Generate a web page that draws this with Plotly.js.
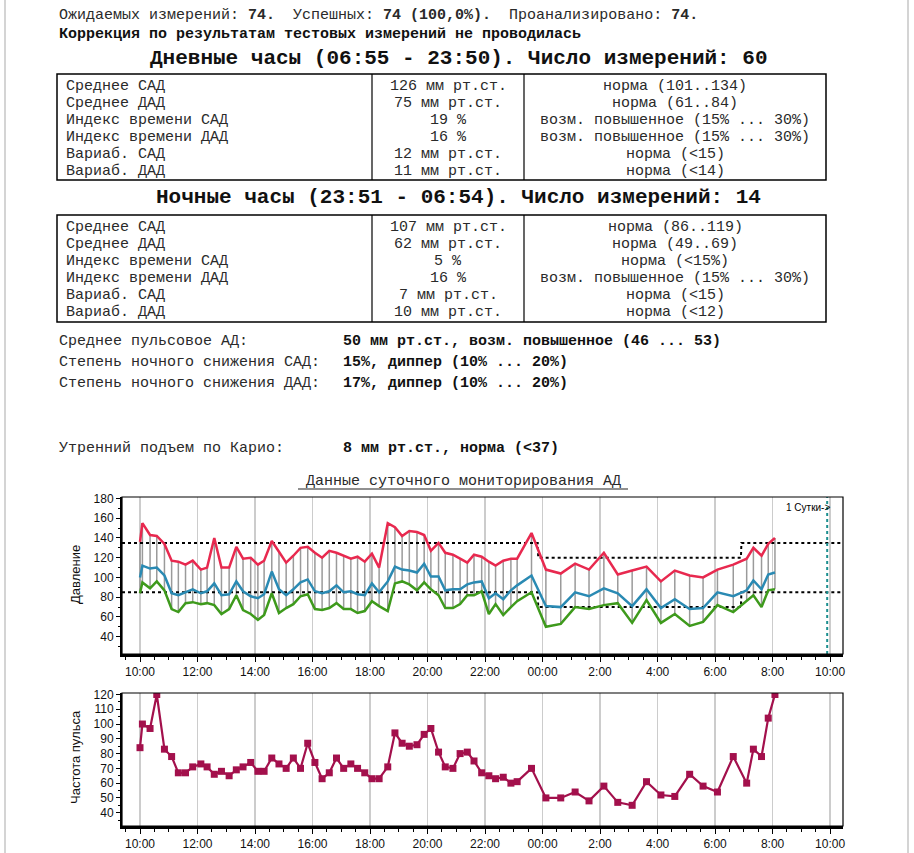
<!DOCTYPE html>
<html>
<head>
<meta charset="utf-8">
<script src="https://cdn.plot.ly/plotly-3.0.1.min.js"></script>
<style>
html,body{margin:0;padding:0;background:#fff;}
#chart{width:914px;height:853px;}
</style>
</head>
<body>
<div id="chart"></div>
<script>
// ---------- data ----------
const times = ['10:00','10:05','10:21','10:35','10:51','11:06','11:20','11:35','11:50','12:07',
  '12:20','12:35','12:50','13:06','13:21','13:35','13:51','14:06','14:19','14:35',
  '14:50','15:05','15:20','15:35','15:50','16:05','16:20','16:35','16:50','17:05',
  '17:20','17:34','17:49','18:04','18:19','18:37','18:52','19:07','19:22','19:38',
  '19:53','20:07','20:23','20:37','20:53','21:08','21:23','21:37','21:53','22:08',
  '22:22','22:38','22:54','23:07','23:37','00:07','00:38','01:08','01:37','02:08',
  '02:37','03:07','03:37','04:07','04:36','05:07','05:35','06:05','06:38','07:06',
  '07:20','07:37','07:51','08:05'];
const sbp = [136,155,143,142,134,117,116,113,117,108, 110,140,110,110,131,119,120,113,117,137,
  126,115,122,130,131,125,120,127,125,122, 119,121,116,124,110,155,151,142,147,146,
  143,127,135,125,123,119,115,123,121,116, 112,117,119,119,145,108,104,114,108,125,
  103,107,111,96,107,102,100,108,113,119, 130,122,134,140];
const mbp = [100,112,109,110,102,84,82,85,88,84, 86,94,82,83,96,86,81,79,83,106,
  88,82,88,95,98,86,84,86,92,85, 86,83,82,94,85,96,111,108,107,105,
  114,101,101,87,88,88,93,95,96,79, 84,78,87,92,102,71,70,85,81,89,
  84,71,88,69,78,68,69,85,81,87, 97,88,103,105];
const dbp = [84,95,89,96,87,68,65,74,75,73, 74,72,63,68,82,67,63,57,62,84,
  64,69,73,81,83,68,67,69,74,68, 68,64,66,76,71,66,94,96,93,87,
  95,88,82,69,69,73,82,82,86,63, 73,62,70,76,85,50,53,70,68,72,
  74,54,77,54,63,51,55,72,65,76, 82,70,87,88];
const pulse = [84,100,97,120,83,78,67,67,71,73, 71,66,68,65,69,71,74,68,68,77,
  73,70,77,70,87,74,63,67,77,70, 73,70,67,63,63,71,94,87,85,86,
  93,97,81,71,70,80,81,75,67,65, 63,64,60,61,70,50,50,54,48,58,
  47,45,61,52,51,66,58,54,78,60, 83,78,104,120];

const dayEnd = '23:50', nightStart = '23:51', nightEnd = '06:54', dayStart = '06:55';
const dayLimits = [135, 85];     // SBP, DBP day thresholds
const nightLimits = [120, 70];   // SBP, DBP night thresholds
const dayMarkTime = '09:54';     // next day (end of first 24 h)
const dayMarkLabel = '1 Сутки->';

const tickTimes = ['10:00','12:00','14:00','16:00','18:00','20:00','22:00','00:00','02:00','04:00','06:00','08:00','10:00'];
const tickLabels = ['10:00','12:00','14:00','16:00','18:00','20:00','22:00','00:00','2:00','4:00','6:00','8:00','10:00'];

const header1 = 'Ожидаемых измерений: <b>74.</b>  Успешных: <b>74 (100,0%).</b>  Проанализировано: <b>74.</b>';
const header2 = 'Коррекция по результатам тестовых измерений не проводилась';
const dayTitle = 'Дневные часы (06:55 - 23:50). Число измерений: 60';
const nightTitle = 'Ночные часы (23:51 - 06:54). Число измерений: 14';
const rowLabels = ['Среднее САД','Среднее ДАД','Индекс времени САД','Индекс времени ДАД','Вариаб. САД','Вариаб. ДАД'];
const dayValues = ['126 мм рт.ст.','75 мм рт.ст.','19 %','16 %','12 мм рт.ст.','11 мм рт.ст.'];
const dayNorms = ['норма (101..134)','норма (61..84)','возм. повышенное (15% ... 30%)','возм. повышенное (15% ... 30%)','норма (<15)','норма (<14)'];
const nightValues = ['107 мм рт.ст.','62 мм рт.ст.','5 %','16 %','7 мм рт.ст.','10 мм рт.ст.'];
const nightNorms = ['норма (86..119)','норма (49..69)','норма (<15%)','возм. повышенное (15% ... 30%)','норма (<15)','норма (<12)'];
const extraLabels = ['Среднее пульсовое АД:','Степень ночного снижения САД:','Степень ночного снижения ДАД:','Утренний подъем по Карио:'];
const extraValues = ['50 мм рт.ст., возм. повышенное (46 ... 53)','15%, диппер (10% ... 20%)','17%, диппер (10% ... 20%)','8 мм рт.ст., норма (<37)'];
const chartTitle = 'Данные суточного мониторирования АД';
const bpAxisTitle = 'Давление';
const pulseAxisTitle = 'Частота пульса';

// ---------- helpers ----------
const W = 914, H = 853;
const px = x => x / W;
const py = y => 1 - y / H;
function toHours(s){ const p = s.split(':').map(Number); let v = p[0] + p[1]/60; if (v < 9.5) v += 24; return v; }
function esc(s){ return s.replace(/&/g,'&amp;').replace(/<(?!\/?b>)/g,'&lt;').replace(/ /g,'\u00A0'); }

const xs = times.map(toHours);
const tickVals = tickTimes.map((t,i) => i === tickTimes.length-1 ? toHours(t)+24 : toHours(t));
const xRange = [9.374, 34.45];

// gray connecting bars
const barX = [], barY = [];
xs.forEach((x,i) => { barX.push(x, x, null); barY.push(sbp[i], dbp[i], null); });

const tDayEnd = toHours(dayEnd), tNightStart = toHours(nightStart), tNightEnd = toHours(nightEnd), tDayStart = toHours(dayStart);
const limX = [xRange[0], tDayEnd, tNightStart, tNightEnd, tDayStart, xRange[1]];
const limTrace = k => ({x: limX, y: [dayLimits[k], dayLimits[k], nightLimits[k], nightLimits[k], dayLimits[k], dayLimits[k]],
  mode:'lines', line:{color:'#000', width:2, dash:'dot', shape:'linear'}, xaxis:'x', yaxis:'y', hoverinfo:'skip'});

const traces = [
  {x: barX, y: barY, mode:'lines', line:{color:'#9a9a9a', width:1.5}, xaxis:'x', yaxis:'y', hoverinfo:'skip'},
  limTrace(0), limTrace(1),
  {x: xs, y: sbp, mode:'lines', line:{color:'#e8294f', width:2.5}, xaxis:'x', yaxis:'y'},
  {x: xs, y: mbp, mode:'lines', line:{color:'#2a8ab3', width:2.5}, xaxis:'x', yaxis:'y'},
  {x: xs, y: dbp, mode:'lines', line:{color:'#3e9a1c', width:2.5}, xaxis:'x', yaxis:'y'},
  {x: xs, y: pulse, mode:'lines+markers', line:{color:'#a3104c', width:2.2},
   marker:{symbol:'square', size:7, color:'#a3104c'}, xaxis:'x2', yaxis:'y2'}
];

const tickFont = {family:'"Liberation Sans", Arial, sans-serif', size:12, color:'#111'};
function xAxis(anchor){
  return {domain:[px(122), px(843)], range:xRange, anchor:anchor, tickmode:'array', tickvals:tickVals, ticktext:tickLabels,
    showgrid:true, gridcolor:'#cccccc', gridwidth:1.5, zeroline:false, ticks:'outside', ticklen:5, tickwidth:1, tickcolor:'#000',
    minor:{tickmode:'linear', tick0:10, dtick:0.5, ticks:'outside', ticklen:3, tickcolor:'#000', showgrid:false},
    showline:true, linecolor:'#000', linewidth:3, tickfont:tickFont, fixedrange:true};
}
function yAxis(anchor, dom, range, dtick, minor){
  return {domain:dom, range:range, anchor:anchor, tick0:0, dtick:dtick, showgrid:false, zeroline:false,
    ticks:'outside', ticklen:4, tickcolor:'#000', minor:{tick0:0, dtick:minor, ticks:'outside', ticklen:2, tickcolor:'#000'},
    showline:true, linecolor:'#000', linewidth:2, tickfont:tickFont, fixedrange:true};
}

const mono = '"Liberation Mono", "Courier New", monospace';
const ann = [];
const shapes = [];
function txt(text, x, y, opts){
  ann.push(Object.assign({text: esc(text), x: px(x), y: py(y), xref:'paper', yref:'paper', showarrow:false,
    xanchor:'left', yanchor:'middle', font:{family:mono, size:15, color:'#2a2a2a'}}, opts||{}));
}
function line(x0,y0,x1,y1,w,c,extra){
  shapes.push(Object.assign({type:'line', xref:'paper', yref:'paper', x0:px(x0), y0:py(y0), x1:px(x1), y1:py(y1), line:{color:c||'#000', width:w||1}}, extra||{}));
}

txt(header1, 57, 16);
txt('<b>' + header2 + '</b>', 57, 35, {font:{family:mono, size:15, color:'#111'}});

function table(title, titleY, top, bottom, values, norms){
  txt('<b>' + title + '</b>', 459, titleY, {xanchor:'center', font:{family:mono, size:21, color:'#111'}});
  shapes.push({type:'rect', xref:'paper', yref:'paper', x0:px(57), x1:px(826), y0:py(bottom), y1:py(top), line:{color:'#000', width:1.5}});
  line(372, top, 372, bottom, 1.2);
  line(524, top, 524, bottom, 1.2);
  rowLabels.forEach((l, i) => {
    const y = top + 12.5 + i * 16.9;
    txt(l, 64, y);
    txt(values[i], 448, y, {xanchor:'center'});
    txt(norms[i], 675, y, {xanchor:'center'});
  });
}
table(dayTitle, 58, 74, 180, dayValues, dayNorms);
table(nightTitle, 197, 215, 322, nightValues, nightNorms);

const extraY = [341, 362, 383, 449];
extraLabels.forEach((l, i) => {
  txt(l, 57, extraY[i]);
  txt('<b>' + extraValues[i] + '</b>', 341, extraY[i], {font:{family:mono, size:15, color:'#111'}});
});

txt(chartTitle, 463, 481, {xanchor:'center'});
line(298, 489, 628, 489, 1.2, '#222');

// page side lines
line(5, 0, 5, 853, 2, '#d4d4d4');
line(908, 0, 908, 853, 2, '#d4d4d4');

// axis titles
const axisTitleFont = {family:'"Liberation Sans", Arial, sans-serif', size:13, color:'#111'};
ann.push({text: bpAxisTitle, x:px(75), y:py(575), xref:'paper', yref:'paper', xanchor:'center', yanchor:'middle', textangle:-90, showarrow:false, font:axisTitleFont});
ann.push({text: pulseAxisTitle, x:px(75), y:py(757), xref:'paper', yref:'paper', xanchor:'center', yanchor:'middle', textangle:-90, showarrow:false, font:axisTitleFont});

// day mark (next day)
const tMark = toHours(dayMarkTime) + 24;
shapes.push({type:'line', xref:'x', yref:'y domain', x0:tMark, x1:tMark, y0:0, y1:1, line:{color:'#1b8f8f', width:2, dash:'dot'}});
ann.push({text: esc(dayMarkLabel), x:px(832), y:py(507), xref:'paper', yref:'paper', xanchor:'right', yanchor:'middle', showarrow:false,
  font:{family:'"Liberation Sans", Arial, sans-serif', size:10, color:'#000'}});

// plot frames (thin top/right)
shapes.push({type:'rect', xref:'x domain', yref:'y domain', x0:0, x1:1, y0:0, y1:1, line:{color:'#000', width:1.2}});
shapes.push({type:'rect', xref:'x2 domain', yref:'y2 domain', x0:0, x1:1, y0:0, y1:1, line:{color:'#000', width:1.2}});

const layout = {
  width: W, height: H, margin:{l:0, r:0, t:0, b:0}, paper_bgcolor:'#fff', plot_bgcolor:'#fff', showlegend:false,
  xaxis: xAxis('y'),
  yaxis: yAxis('x', [py(654), py(497)], [22.5, 181.5], 20, 10),
  xaxis2: xAxis('y2'),
  yaxis2: yAxis('x2', [py(826), py(693)], [31, 121], 10, 5),
  annotations: ann, shapes: shapes
};
Plotly.newPlot('chart', traces, layout, {displayModeBar:false, staticPlot:true});
</script>
</body>
</html>
